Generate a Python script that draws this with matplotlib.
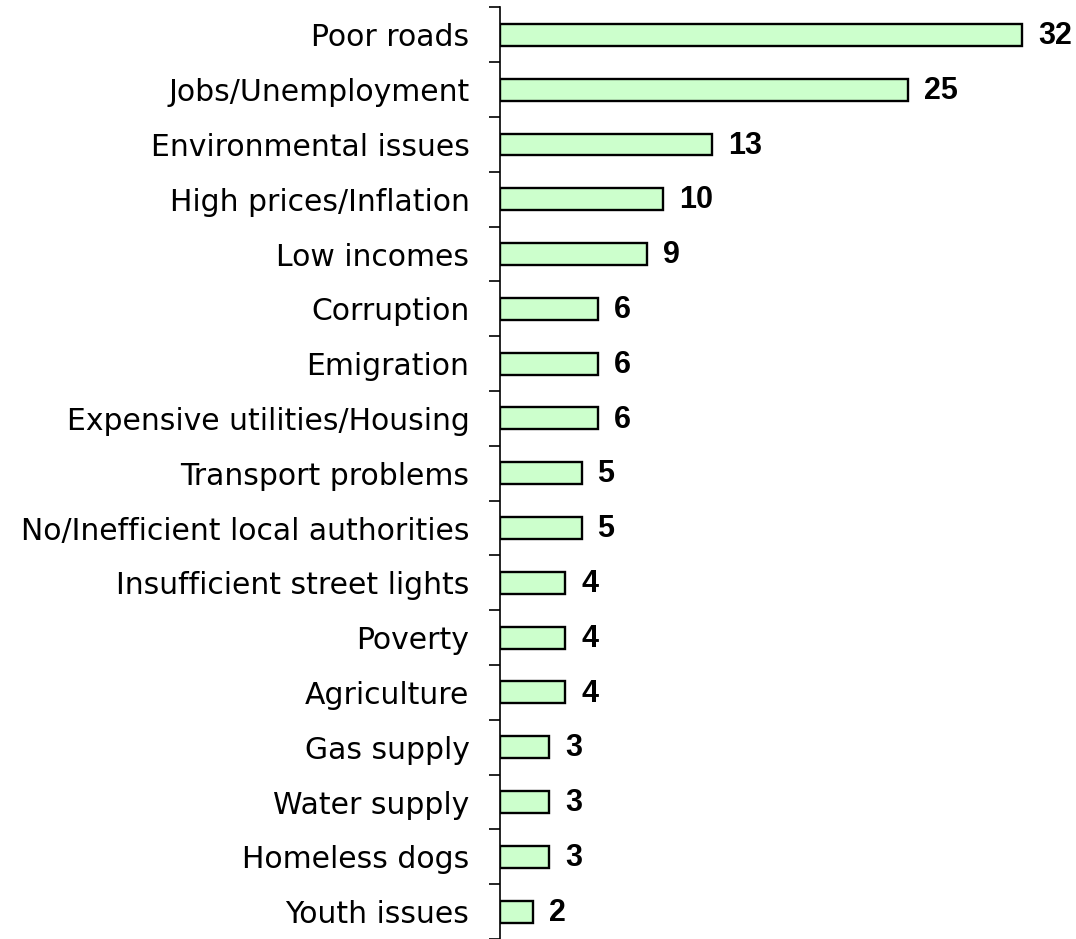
import numpy as np
import matplotlib
matplotlib.use("Agg")
import matplotlib.pyplot as plt

problems = ["Poor roads", "Jobs/Unemployment", "Environmental issues",
            "High prices/Inflation", "Low incomes", "Corruption", "Emigration",
            "Expensive utilities/Housing", "Transport problems",
            "No/Inefficient local authorities", "Insufficient street lights",
            "Poverty", "Agriculture", "Gas supply", "Water supply",
            "Homeless dogs", "Youth issues"]
values = [32, 25, 13, 10, 9, 6, 6, 6, 5, 5, 4, 4, 4, 3, 3, 3, 2]

plt.rcParams["font.family"] = ["DejaVu Sans"]

fig = plt.figure(figsize=(10.76, 9.39), dpi=100)
ax = fig.add_axes([500 / 1076, 0.0, 1 - 500 / 1076, 1 - 7.5 / 939])

y = np.arange(len(problems))
ax.barh(y, values, height=0.4, color="#ccffcc", edgecolor="black", linewidth=1.7)

for yi, v in zip(y, values):
    ax.text(v + 0.98, yi + 0.02, str(v), va="center", ha="left",
            fontsize=22, fontweight="bold",
            family=["Liberation Sans", "DejaVu Sans"])

ax.set_xlim(0, 35.3)
ax.set_ylim(16.42, -0.5)

# major ticks on category boundaries, labels on minor ticks at centers
ax.set_yticks(np.arange(-0.5, len(problems), 1.0))
ax.set_yticklabels([])
ax.set_yticks(y, minor=True)
ax.set_yticklabels(problems, minor=True, fontsize=21.5)
ax.tick_params(axis="y", which="major", length=8, width=1.2, direction="out")
ax.tick_params(axis="y", which="minor", length=0, pad=22)

ax.set_xticks([])
for s in ["top", "right", "bottom"]:
    ax.spines[s].set_visible(False)
ax.spines["left"].set_linewidth(1.2)

plt.savefig("out.png", dpi=100)
